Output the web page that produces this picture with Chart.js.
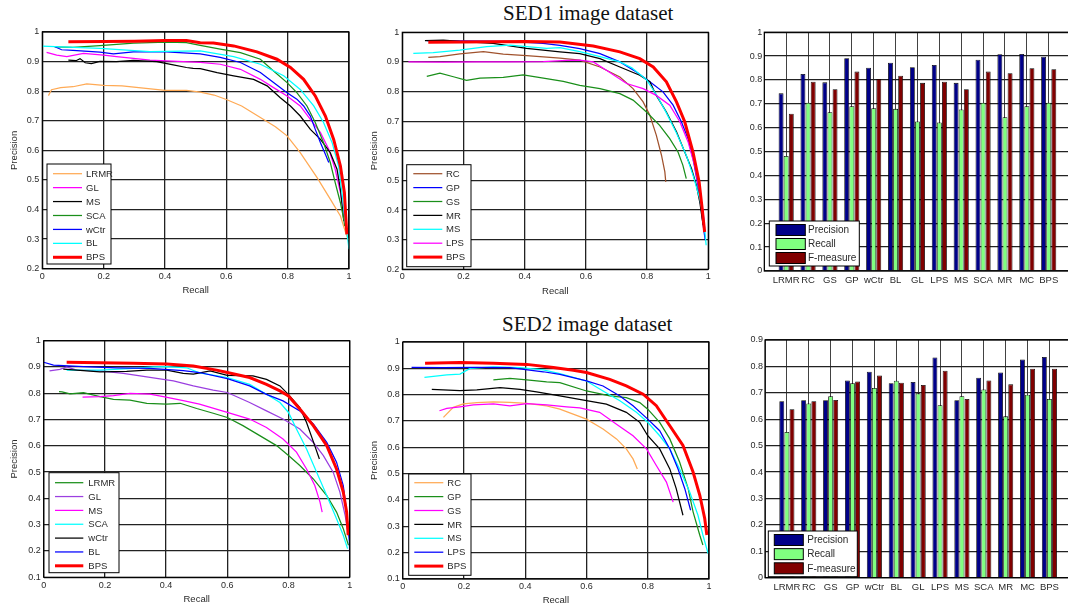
<!DOCTYPE html>
<html>
<head>
<meta charset="utf-8">
<script src="https://cdn.jsdelivr.net/npm/chart.js@4.4.1/dist/chart.umd.min.js"></script>
<style>
body { margin: 0; width: 1068px; height: 607px; overflow: hidden; background: #fff; position: relative; }
.box { position: absolute; }
.ttl { position: absolute; font-family: "Liberation Serif", "Times New Roman", serif; font-size: 21px; line-height: 21px; color: #111; white-space: nowrap; }
</style>
</head>
<body>
<div class="ttl" style="left:503px;top:3px">SED1 image dataset</div>
<div class="ttl" style="left:502px;top:314px">SED2 image dataset</div>
<div class="box" id="p1"><canvas></canvas></div>
<div class="box" id="p2"><canvas></canvas></div>
<div class="box" id="p3"><canvas></canvas></div>
<div class="box" id="p4"><canvas></canvas></div>
<div class="box" id="p5"><canvas></canvas></div>
<div class="box" id="p6"><canvas></canvas></div>
<script>
// ---- SED1, left panel (recall, precision)
const sed1aNames = ['LRMR', 'GL', 'MS', 'SCA', 'wCtr', 'BL', 'BPS'];
const sed1aColors = ['#ffaa55', '#ff00ff', '#000000', '#1a8f1a', '#0000ff', '#00ffff', '#ff0000'];
const sed1aLRMR = [[0.02,0.785],[0.03,0.805],[0.06,0.812],[0.1,0.815],[0.145,0.825],[0.2,0.82],[0.26,0.818],[0.33,0.81],[0.4,0.803],[0.47,0.803],[0.515,0.797],[0.56,0.787],[0.6,0.772],[0.65,0.75],[0.711,0.711],[0.76,0.68],[0.798,0.649],[0.841,0.592],[0.896,0.508],[0.939,0.435],[0.972,0.378],[0.989,0.322],[0.998,0.297]];
const sed1aGL = [[0.014,0.931],[0.047,0.922],[0.08,0.917],[0.134,0.928],[0.2,0.922],[0.242,0.917],[0.297,0.911],[0.351,0.905],[0.405,0.902],[0.46,0.9],[0.515,0.897],[0.58,0.891],[0.646,0.874],[0.711,0.84],[0.754,0.812],[0.798,0.784],[0.841,0.75],[0.874,0.705],[0.907,0.66],[0.934,0.604],[0.955,0.536],[0.972,0.457],[0.983,0.39],[0.99,0.344]];
const sed1aMS = [[0.085,0.905],[0.11,0.903],[0.123,0.91],[0.14,0.896],[0.16,0.893],[0.188,0.901],[0.242,0.9],[0.297,0.904],[0.373,0.9],[0.427,0.889],[0.47,0.88],[0.492,0.877],[0.515,0.876],[0.57,0.863],[0.624,0.852],[0.689,0.84],[0.733,0.818],[0.776,0.778],[0.809,0.75],[0.841,0.716],[0.874,0.671],[0.907,0.637],[0.939,0.592],[0.961,0.536],[0.972,0.468],[0.98,0.39],[0.983,0.361]];
const sed1aSCA = [[0.04,0.95],[0.1,0.948],[0.188,0.954],[0.297,0.962],[0.405,0.966],[0.47,0.964],[0.515,0.955],[0.58,0.942],[0.646,0.93],[0.711,0.908],[0.754,0.868],[0.798,0.829],[0.83,0.795],[0.863,0.75],[0.89,0.694],[0.917,0.626],[0.939,0.559],[0.955,0.491],[0.972,0.423],[0.983,0.367],[0.986,0.344]];
const sed1aWCtr = [[0.041,0.95],[0.063,0.94],[0.1,0.938],[0.188,0.932],[0.232,0.926],[0.297,0.933],[0.405,0.933],[0.515,0.926],[0.58,0.914],[0.646,0.897],[0.711,0.863],[0.754,0.829],[0.798,0.795],[0.83,0.773],[0.852,0.75],[0.874,0.716],[0.89,0.671],[0.907,0.626],[0.923,0.587],[0.934,0.559]];
const sed1aBL = [[0,0.952],[0.188,0.945],[0.351,0.934],[0.515,0.936],[0.624,0.917],[0.711,0.891],[0.787,0.852],[0.841,0.806],[0.885,0.75],[0.917,0.694],[0.945,0.626],[0.966,0.547],[0.977,0.457],[0.988,0.356],[0.996,0.3],[1,0.266]];
const sed1aBPS = [[0.085,0.967],[0.2,0.968],[0.3,0.969],[0.4,0.971],[0.47,0.971],[0.515,0.964],[0.558,0.963],[0.624,0.953],[0.7,0.933],[0.765,0.908],[0.809,0.88],[0.852,0.84],[0.89,0.784],[0.923,0.716],[0.95,0.637],[0.972,0.547],[0.985,0.457],[0.99,0.367],[0.993,0.316]];

// ---- SED1, middle panel
const sed1bNames = ['RC', 'GP', 'GS', 'MR', 'MS', 'LPS', 'BPS'];
const sed1bColors = ['#a0522d', '#0000ff', '#1a8f1a', '#000000', '#00ffff', '#ff00ff', '#ff0000'];
const sed1bRC = [[0.085,0.915],[0.123,0.918],[0.188,0.927],[0.265,0.935],[0.33,0.926],[0.406,0.921],[0.472,0.916],[0.515,0.913],[0.58,0.906],[0.646,0.883],[0.711,0.849],[0.754,0.81],[0.787,0.765],[0.809,0.72],[0.83,0.653],[0.847,0.585],[0.858,0.529],[0.861,0.495]];
const sed1bGP = [[0.08,0.972],[0.2,0.971],[0.352,0.969],[0.46,0.963],[0.515,0.956],[0.58,0.945],[0.646,0.928],[0.711,0.9],[0.765,0.866],[0.809,0.833],[0.852,0.799],[0.885,0.754],[0.912,0.698],[0.934,0.641],[0.95,0.574],[0.966,0.484],[0.977,0.405],[0.986,0.327],[0.99,0.298]];
const sed1bGS = [[0.08,0.851],[0.123,0.862],[0.167,0.85],[0.21,0.838],[0.254,0.845],[0.33,0.848],[0.395,0.856],[0.461,0.845],[0.526,0.834],[0.58,0.821],[0.646,0.81],[0.711,0.793],[0.754,0.771],[0.798,0.731],[0.841,0.686],[0.874,0.641],[0.901,0.596],[0.917,0.551],[0.928,0.506]];
const sed1bMR = [[0.074,0.972],[0.134,0.974],[0.188,0.969],[0.297,0.963],[0.406,0.946],[0.515,0.934],[0.58,0.928],[0.646,0.911],[0.711,0.883],[0.776,0.855],[0.809,0.833],[0.83,0.787],[0.863,0.731],[0.896,0.664],[0.923,0.596],[0.945,0.54],[0.961,0.484],[0.972,0.428],[0.983,0.349]];
const sed1bMS = [[0.036,0.929],[0.101,0.931],[0.188,0.94],[0.276,0.952],[0.352,0.957],[0.406,0.952],[0.472,0.946],[0.515,0.948],[0.58,0.935],[0.646,0.918],[0.711,0.9],[0.75,0.88],[0.798,0.84],[0.83,0.79],[0.863,0.728],[0.896,0.66],[0.928,0.585],[0.95,0.518],[0.972,0.439],[0.985,0.371],[0.993,0.281]];
const sed1bLPS = [[0.02,0.9],[0.134,0.899],[0.243,0.9],[0.352,0.9],[0.461,0.901],[0.537,0.905],[0.58,0.906],[0.624,0.9],[0.667,0.872],[0.733,0.827],[0.787,0.81],[0.83,0.787],[0.874,0.754],[0.907,0.698],[0.934,0.63],[0.955,0.551],[0.972,0.461],[0.983,0.394],[0.988,0.338]];
const sed1bBPS = [[0.085,0.966],[0.2,0.967],[0.3,0.968],[0.4,0.969],[0.515,0.967],[0.624,0.954],[0.711,0.934],[0.776,0.911],[0.82,0.883],[0.863,0.833],[0.896,0.765],[0.923,0.698],[0.95,0.596],[0.97,0.495],[0.98,0.405],[0.988,0.326]];

// ---- SED2, left panel
const sed2aNames = ['LRMR', 'GL', 'MS', 'SCA', 'wCtr', 'BL', 'BPS'];
const sed2aColors = ['#1a8f1a', '#9b3fe0', '#ff00ff', '#00ffff', '#000000', '#0000ff', '#ff0000'];
const sed2aLRMR = [[0.05,0.806],[0.06,0.805],[0.086,0.798],[0.13,0.802],[0.184,0.787],[0.228,0.777],[0.282,0.774],[0.337,0.762],[0.402,0.759],[0.446,0.762],[0.5,0.742],[0.554,0.724],[0.6,0.708],[0.651,0.677],[0.706,0.639],[0.761,0.601],[0.8,0.563],[0.837,0.525],[0.881,0.474],[0.925,0.411],[0.957,0.348],[0.979,0.285],[0.996,0.222]];
const sed2aGL = [[0.019,0.885],[0.053,0.891],[0.075,0.9],[0.108,0.888],[0.184,0.885],[0.26,0.876],[0.315,0.866],[0.369,0.857],[0.424,0.847],[0.489,0.828],[0.554,0.812],[0.6,0.803],[0.673,0.765],[0.728,0.733],[0.782,0.702],[0.837,0.664],[0.881,0.613],[0.914,0.563],[0.946,0.5],[0.968,0.424],[0.985,0.336],[0.996,0.26]];
const sed2aMS = [[0.127,0.785],[0.184,0.787],[0.228,0.791],[0.282,0.8],[0.347,0.797],[0.391,0.787],[0.456,0.772],[0.509,0.759],[0.6,0.727],[0.673,0.702],[0.728,0.67],[0.782,0.626],[0.826,0.576],[0.859,0.512],[0.886,0.449],[0.903,0.386],[0.91,0.348]];
const sed2aSCA = [[0.075,0.888],[0.184,0.888],[0.293,0.895],[0.359,0.9],[0.402,0.901],[0.467,0.897],[0.509,0.878],[0.6,0.86],[0.673,0.834],[0.728,0.796],[0.772,0.765],[0.8,0.727],[0.826,0.664],[0.859,0.588],[0.892,0.5],[0.925,0.411],[0.957,0.323],[0.979,0.26],[0.993,0.209]];
const sed2aWCtr = [[0.064,0.892],[0.13,0.886],[0.184,0.881],[0.271,0.883],[0.337,0.888],[0.402,0.888],[0.456,0.876],[0.489,0.873],[0.544,0.885],[0.6,0.868],[0.684,0.866],[0.728,0.853],[0.772,0.828],[0.8,0.795],[0.837,0.746],[0.859,0.689],[0.886,0.6],[0.901,0.55]];
const sed2aBL = [[0,0.918],[0.032,0.907],[0.13,0.901],[0.239,0.897],[0.347,0.895],[0.456,0.886],[0.509,0.879],[0.6,0.856],[0.673,0.828],[0.728,0.796],[0.782,0.771],[0.837,0.733],[0.881,0.683],[0.925,0.613],[0.957,0.538],[0.979,0.449],[0.99,0.348],[0.999,0.235],[1,0.184]];
const sed2aBPS = [[0.075,0.918],[0.184,0.916],[0.293,0.914],[0.402,0.911],[0.489,0.904],[0.565,0.888],[0.6,0.879],[0.673,0.86],[0.728,0.834],[0.772,0.809],[0.8,0.79],[0.837,0.74],[0.881,0.677],[0.925,0.601],[0.957,0.512],[0.979,0.424],[0.99,0.348],[0.995,0.26]];

// ---- SED2, middle panel
const sed2bNames = ['RC', 'GP', 'GS', 'MR', 'MS', 'LPS', 'BPS'];
const sed2bColors = ['#ffaa55', '#1a8f1a', '#ff00ff', '#000000', '#00ffff', '#0000ff', '#ff0000'];
const sed2bRC = [[0.133,0.714],[0.165,0.752],[0.198,0.765],[0.242,0.77],[0.296,0.773],[0.35,0.771],[0.405,0.767],[0.47,0.757],[0.513,0.745],[0.6,0.707],[0.654,0.67],[0.698,0.632],[0.73,0.594],[0.752,0.556],[0.766,0.518]];
const sed2bGP = [[0.296,0.856],[0.35,0.862],[0.405,0.856],[0.47,0.849],[0.513,0.846],[0.6,0.814],[0.676,0.795],[0.73,0.789],[0.774,0.77],[0.8,0.745],[0.839,0.695],[0.872,0.632],[0.904,0.544],[0.932,0.443],[0.948,0.355],[0.97,0.266],[0.98,0.229]];
const sed2bGS = [[0.12,0.739],[0.144,0.748],[0.187,0.754],[0.231,0.761],[0.296,0.765],[0.35,0.757],[0.405,0.766],[0.47,0.761],[0.535,0.754],[0.578,0.75],[0.643,0.733],[0.698,0.688],[0.752,0.644],[0.796,0.594],[0.828,0.531],[0.861,0.468],[0.883,0.392]];
const sed2bMR = [[0.095,0.82],[0.187,0.815],[0.242,0.818],[0.318,0.827],[0.383,0.82],[0.437,0.811],[0.513,0.795],[0.6,0.777],[0.665,0.764],[0.73,0.733],[0.774,0.695],[0.8,0.644],[0.839,0.594],[0.872,0.518],[0.893,0.443],[0.915,0.342]];
const sed2bMS = [[0.071,0.866],[0.144,0.875],[0.187,0.878],[0.22,0.9],[0.296,0.906],[0.383,0.903],[0.459,0.894],[0.513,0.88],[0.6,0.852],[0.654,0.814],[0.709,0.777],[0.763,0.733],[0.8,0.695],[0.839,0.644],[0.872,0.594],[0.904,0.518],[0.937,0.43],[0.964,0.342],[0.98,0.267],[0.997,0.197]];
const sed2bLPS = [[0.029,0.904],[0.133,0.903],[0.242,0.904],[0.35,0.903],[0.459,0.887],[0.513,0.877],[0.6,0.852],[0.654,0.833],[0.709,0.795],[0.752,0.758],[0.8,0.707],[0.839,0.663],[0.872,0.594],[0.899,0.518],[0.921,0.443],[0.94,0.361]];
const sed2bBPS = [[0.073,0.919],[0.187,0.922],[0.296,0.919],[0.405,0.915],[0.492,0.903],[0.557,0.893],[0.6,0.884],[0.676,0.858],[0.73,0.833],[0.785,0.802],[0.828,0.758],[0.872,0.682],[0.915,0.607],[0.948,0.506],[0.97,0.418],[0.986,0.33],[0.993,0.267]];

// ---- bar panels
const methods = ['LRMR', 'RC', 'GS', 'GP', 'wCtr', 'BL', 'GL', 'LPS', 'MS', 'SCA', 'MR', 'MC', 'BPS'];
const measureNames = ['Precision', 'Recall', 'F-measure'];
const measureColors = ['#000088', '#80ff80', '#800000'];
const sed1Precision = [0.744, 0.825, 0.790, 0.891, 0.851, 0.872, 0.853, 0.863, 0.788, 0.885, 0.908, 0.909, 0.897];
const sed1Recall    = [0.482, 0.705, 0.665, 0.690, 0.682, 0.679, 0.626, 0.622, 0.676, 0.705, 0.644, 0.690, 0.705];
const sed1FMeasure  = [0.659, 0.793, 0.761, 0.835, 0.804, 0.818, 0.788, 0.793, 0.761, 0.835, 0.828, 0.849, 0.845];
const sed2Precision = [0.668, 0.672, 0.672, 0.747, 0.780, 0.736, 0.741, 0.834, 0.672, 0.757, 0.777, 0.826, 0.836];
const sed2Recall    = [0.552, 0.660, 0.687, 0.736, 0.718, 0.746, 0.698, 0.653, 0.687, 0.713, 0.611, 0.693, 0.677];
const sed2FMeasure  = [0.638, 0.668, 0.673, 0.743, 0.766, 0.738, 0.730, 0.784, 0.677, 0.747, 0.732, 0.791, 0.791];

const TXT = '#2a2a2a';
const tickFont = { family: '"Liberation Sans", Arial, sans-serif', size: 9 };
const titleFont = { family: '"Liberation Sans", Arial, sans-serif', size: 9.5 };
const fmt = v => String(+(+v).toFixed(1));

// frame round the plot area and a boxed legend inside it, like the MATLAB figure
const framePlugin = {
  id: 'frameBox',
  afterDraw(chart) {
    const { ctx, chartArea: a } = chart;
    const o = chart.options.plugins.frameBox;
    ctx.save();
    ctx.strokeStyle = '#000';
    ctx.lineWidth = 1.2;
    ctx.strokeRect(a.left, a.top, a.right - a.left, a.bottom - a.top);
    const L = o.legend, ox = o.ox, oy = o.oy;
    ctx.fillStyle = '#fff';
    ctx.fillRect(L.x - ox, L.y - oy, L.w, L.h);
    ctx.lineWidth = 1;
    ctx.strokeRect(L.x - ox, L.y - oy, L.w, L.h);
    ctx.font = L.size + 'px "Liberation Sans", Arial, sans-serif';
    ctx.textBaseline = 'middle';
    chart.data.datasets.forEach((ds, i) => {
      const y = L.row0 + i * L.rowH - oy;
      if (L.kind === 'bar') {
        ctx.fillStyle = ds.backgroundColor;
        ctx.fillRect(L.sx0 - ox, y - 5.5, L.sx1 - L.sx0, 11);
        ctx.strokeStyle = '#000';
        ctx.lineWidth = 1;
        ctx.strokeRect(L.sx0 - ox, y - 5.5, L.sx1 - L.sx0, 11);
      } else {
        ctx.strokeStyle = ds.borderColor;
        ctx.lineWidth = ds.borderWidth;
        ctx.beginPath();
        ctx.moveTo(L.sx0 - ox, y);
        ctx.lineTo(L.sx1 - ox, y);
        ctx.stroke();
      }
      ctx.fillStyle = TXT;
      ctx.fillText(ds.label, L.tx - ox, y + 0.5);
    });
    ctx.restore();
  }
};

function setup(id, cont) {
  const div = document.getElementById(id);
  div.style.left = cont.x + 'px';
  div.style.top = cont.y + 'px';
  div.style.width = cont.w + 'px';
  div.style.height = cont.h + 'px';
  const cv = div.querySelector('canvas');
  cv.width = cont.w;
  cv.height = cont.h;
  cv.style.width = cont.w + 'px';
  cv.style.height = cont.h + 'px';
  return cv;
}

function prChart(id, cont, area, yMin, names, colors, series, xt, legend) {
  const cv = setup(id, cont);
  const datasets = names.map((n, i) => ({
    label: n,
    data: series[i].map(p => ({ x: p[0], y: p[1] })),
    borderColor: colors[i],
    backgroundColor: colors[i],
    borderWidth: n === 'BPS' ? 3 : 1.25,
    pointRadius: 0,
    tension: 0,
    fill: false,
    order: names.length - i
  }));
  new Chart(cv, {
    type: 'line',
    data: { datasets },
    plugins: [framePlugin],
    options: {
      responsive: false,
      animation: false,
      layout: { padding: { left: 0, top: area.T - cont.y, right: cont.x + cont.w - area.R, bottom: 0 } },
      plugins: {
        legend: { display: false },
        tooltip: { enabled: false },
        frameBox: { legend, ox: cont.x, oy: cont.y }
      },
      scales: {
        x: {
          type: 'linear', min: 0, max: 1,
          ticks: { stepSize: 0.2, padding: xt.tp, font: tickFont, color: TXT, maxRotation: 0, autoSkip: false, callback: fmt },
          grid: { color: '#222', lineWidth: 1.3, drawTicks: false },
          border: { display: false },
          title: { display: true, text: 'Recall', font: titleFont, color: TXT, padding: { top: 0, bottom: xt.titlePad } },
          afterFit(s) { s.height = cont.y + cont.h - area.B; s.paddingLeft = 0; s.paddingRight = 0; }
        },
        y: {
          type: 'linear', min: yMin, max: 1,
          ticks: { stepSize: 0.1, padding: 3, font: tickFont, color: TXT, autoSkip: false, callback: fmt },
          grid: { color: '#222', lineWidth: 1.3, drawTicks: false },
          border: { display: false },
          title: { display: true, text: 'Precision', font: titleFont, color: TXT, padding: { top: 9, bottom: 0 } },
          afterFit(s) { s.width = area.L - cont.x; s.paddingTop = 0; s.paddingBottom = 0; }
        }
      }
    }
  });
}

function barChart(id, cont, area, yMax, values, legend) {
  const cv = setup(id, cont);
  const labels = [''].concat(methods, ['']);
  const datasets = measureNames.map((n, i) => ({
    label: n,
    data: [null].concat(values[i], [null]),
    backgroundColor: measureColors[i],
    borderColor: '#000',
    borderWidth: 0.8,
    categoryPercentage: 0.7,
    barPercentage: 0.96
  }));
  new Chart(cv, {
    type: 'bar',
    data: { labels, datasets },
    plugins: [framePlugin],
    options: {
      responsive: false,
      animation: false,
      layout: { padding: { left: 0, top: area.T - cont.y, right: cont.x + cont.w - area.R, bottom: 0 } },
      plugins: {
        legend: { display: false },
        tooltip: { enabled: false },
        frameBox: { legend, ox: cont.x, oy: cont.y }
      },
      scales: {
        x: {
          type: 'category', offset: false,
          ticks: { padding: 3.5, font: { family: tickFont.family, size: 9.5 }, color: TXT, maxRotation: 0, autoSkip: false },
          grid: { offset: false, color: '#111', lineWidth: 0.8, drawTicks: false },
          border: { display: false },
          afterFit(s) { s.height = cont.y + cont.h - area.B; s.paddingLeft = 0; s.paddingRight = 0; }
        },
        y: {
          min: 0, max: yMax,
          ticks: { stepSize: 0.1, padding: 2, font: tickFont, color: TXT, autoSkip: false, callback: fmt },
          grid: { color: '#222', lineWidth: 1.3, drawTicks: false },
          border: { display: false },
          afterFit(s) { s.width = area.L - cont.x; s.paddingTop = 0; s.paddingBottom = 0; }
        }
      }
    }
  });
}

prChart('p1', { x: 0, y: 20, w: 358, h: 282 }, { L: 42.3, T: 32, R: 349, B: 268.7 }, 0.2,
  sed1aNames, sed1aColors, [sed1aLRMR, sed1aGL, sed1aMS, sed1aSCA, sed1aWCtr, sed1aBL, sed1aBPS],
  { tp: 2, titlePad: 6.3 },
  { x: 47, y: 164, w: 64, h: 100, row0: 173.7, rowH: 13.93, sx0: 53, sx1: 82, tx: 86, size: 9.5 });

prChart('p2', { x: 360, y: 20, w: 358, h: 282 }, { L: 402.3, T: 32.3, R: 708.3, B: 269.3 }, 0.2,
  sed1bNames, sed1bColors, [sed1bRC, sed1bGP, sed1bGS, sed1bMR, sed1bMS, sed1bLPS, sed1bBPS],
  { tp: 2, titlePad: 4.6 },
  { x: 406.7, y: 164.7, w: 64.3, h: 102, row0: 173.7, rowH: 13.9, sx0: 413.3, sx1: 442.3, tx: 446, size: 9.5 });

prChart('p4', { x: 0, y: 328, w: 358, h: 279 }, { L: 43.7, T: 340.7, R: 349.7, B: 577.3 }, 0.1,
  sed2aNames, sed2aColors, [sed2aLRMR, sed2aGL, sed2aMS, sed2aSCA, sed2aWCtr, sed2aBL, sed2aBPS],
  { tp: 3, titlePad: 2 },
  { x: 49, y: 472.7, w: 70, h: 100, row0: 482.7, rowH: 13.85, sx0: 55, sx1: 83.3, tx: 88.3, size: 9.5 });

prChart('p5', { x: 360, y: 328, w: 358, h: 279 }, { L: 402.7, T: 342, R: 709, B: 579 }, 0.1,
  sed2bNames, sed2bColors, [sed2bRC, sed2bGP, sed2bGS, sed2bMR, sed2bMS, sed2bLPS, sed2bBPS],
  { tp: 2.3, titlePad: 1.3 },
  { x: 408.7, y: 474, w: 62.3, h: 101.3, row0: 482.7, rowH: 13.9, sx0: 414.3, sx1: 443.3, tx: 447.3, size: 9.5 });

barChart('p3', { x: 720, y: 20, w: 360, h: 280 }, { L: 764.3, T: 32.2, R: 1070.6, B: 271 }, 1,
  [sed1Precision, sed1Recall, sed1FMeasure],
  { kind: 'bar', x: 769.3, y: 221, w: 90, h: 45, row0: 230, rowH: 14, sx0: 776, sx1: 805.3, tx: 808, size: 10 });

barChart('p6', { x: 720, y: 328, w: 360, h: 279 }, { L: 765, T: 340, R: 1071.3, B: 577.7 }, 0.9,
  [sed2Precision, sed2Recall, sed2FMeasure],
  { kind: 'bar', x: 768.3, y: 531, w: 89, h: 45.7, row0: 540, rowH: 14.15, sx0: 774.3, sx1: 803.3, tx: 807.3, size: 10 });
</script>
</body>
</html>
